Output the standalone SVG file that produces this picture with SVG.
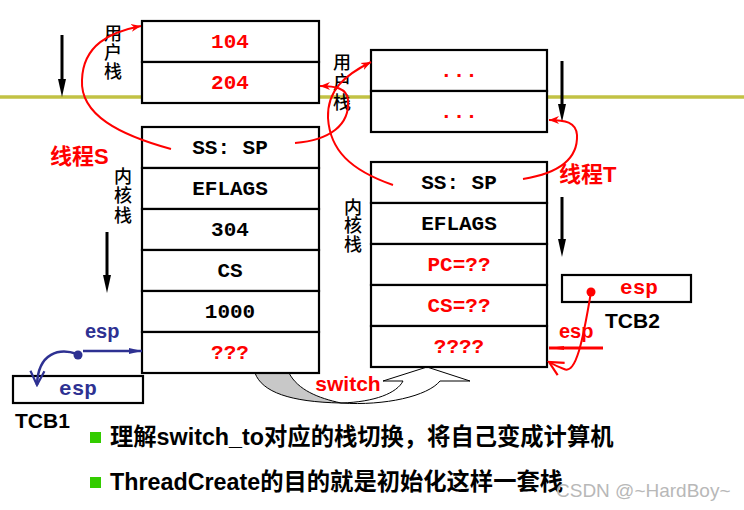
<svg xmlns="http://www.w3.org/2000/svg" width="744" height="510" viewBox="0 0 744 510">
<defs>
<style>
.cell{fill:#fff;stroke:#000;stroke-width:2.2}
.m{font-family:"Liberation Mono","Courier New",monospace;font-weight:bold;font-size:21px;text-anchor:middle;fill:#000}
.r{fill:#ff0000}
.cj{font-family:"Noto Sans CJK SC",sans-serif;font-size:18px;font-weight:500;writing-mode:vertical-rl;text-anchor:start;fill:#000}
.lb{font-family:"Liberation Sans","Noto Sans CJK SC",sans-serif;font-weight:bold}
.rc{fill:none;stroke:#ff0000;stroke-width:2}
.bc{fill:none;stroke:#2e3192;stroke-width:2.5}
.blk{stroke:#000;stroke-width:3}
</style>
<marker id="rf" markerUnits="userSpaceOnUse" markerWidth="12" markerHeight="10" refX="10" refY="5" orient="auto"><path d="M0,1 L10,5 L0,9 L3,5 Z" fill="#ff0000"/></marker>
<marker id="rv" markerUnits="userSpaceOnUse" markerWidth="18" markerHeight="18" refX="16" refY="9" orient="auto"><path d="M2,2 L16,9 L2,16" fill="none" stroke="#ff0000" stroke-width="2.2"/></marker>
<marker id="bf" markerUnits="userSpaceOnUse" markerWidth="14" markerHeight="10" refX="13" refY="5" orient="auto"><path d="M0,2 L13,5 L0,8 Z" fill="#2e3192"/></marker>
<marker id="bv" markerUnits="userSpaceOnUse" markerWidth="18" markerHeight="18" refX="16" refY="9" orient="auto"><path d="M2,2 L16,9 L2,16" fill="none" stroke="#2e3192" stroke-width="2.2"/></marker>
<marker id="rl" markerUnits="userSpaceOnUse" markerWidth="16" markerHeight="10" refX="15" refY="5" orient="auto"><path d="M0,3 L15,5 L0,7 Z" fill="#ff0000"/></marker>
</defs>
<rect width="744" height="510" fill="#fff"/>

<!-- olive boundary line -->
<line x1="0" y1="97" x2="744" y2="97" stroke="#c2c244" stroke-width="3.5"/>

<!-- growth direction arrows -->
<g id="dir-arrows">
<line class="blk" x1="62" y1="35" x2="62" y2="82"/><path d="M58,79 L66,79 L62,97 Z"/>
<line class="blk" x1="107" y1="232" x2="107" y2="278"/><path d="M103,275 L111,275 L107,293 Z"/>
<line class="blk" x1="562" y1="61" x2="562" y2="107"/><path d="M558,104 L566,104 L562,122 Z"/>
<line class="blk" x1="562" y1="197" x2="562" y2="242"/><path d="M558,239 L566,239 L562,257 Z"/>
</g>

<!-- switch curved arrow -->
<g id="switch-arrow">
<path d="M255,373 C262,392 290,402 341,403 C318,398 298,390 289,373 Z" fill="#c8c8c8" stroke="#000" stroke-width="1"/>
<path d="M341,403 C375,402 397,393 403,381 L383,381 L427,367 L470,381 L440,381 C428,396 385,406 341,403 Z" fill="#fff" stroke="#000" stroke-width="1"/>
<text class="lb r" x="348" y="391" font-size="21" text-anchor="middle">switch</text>
</g>

<!-- Thread S user stack -->
<g id="s-user-stack">
<rect class="cell" x="142" y="21" width="177" height="41"/>
<rect class="cell" x="142" y="62" width="177" height="41"/>
<text class="m r" x="230" y="48">104</text>
<text class="m r" x="230" y="89">204</text>
<text class="cj" x="113" y="24" letter-spacing="1">用户栈</text>
</g>

<!-- Thread S kernel stack -->
<g id="s-kernel-stack">
<rect class="cell" x="142" y="127" width="177" height="41"/>
<rect class="cell" x="142" y="168" width="177" height="41"/>
<rect class="cell" x="142" y="209" width="177" height="41"/>
<rect class="cell" x="142" y="250" width="177" height="41"/>
<rect class="cell" x="142" y="291" width="177" height="41"/>
<rect class="cell" x="142" y="332" width="177" height="41"/>
<text class="m" x="230" y="154">SS: SP</text>
<text class="m" x="230" y="195">EFLAGS</text>
<text class="m" x="230" y="236">304</text>
<text class="m" x="230" y="277">CS</text>
<text class="m" x="230" y="318">1000</text>
<text class="m r" x="230" y="359">???</text>
<text class="cj" x="123" y="167" letter-spacing="1.5">内核栈</text>
</g>

<!-- Thread T user stack -->
<g id="t-user-stack">
<rect class="cell" x="371" y="50" width="176" height="41"/>
<rect class="cell" x="371" y="91" width="176" height="41"/>
<text class="m r" x="459" y="77">...</text>
<text class="m r" x="459" y="118">...</text>
<text class="cj" x="342" y="53" letter-spacing="2">用户栈</text>
</g>

<!-- Thread T kernel stack -->
<g id="t-kernel-stack">
<rect class="cell" x="371" y="162" width="176" height="41"/>
<rect class="cell" x="371" y="203" width="176" height="41"/>
<rect class="cell" x="371" y="244" width="176" height="41"/>
<rect class="cell" x="371" y="285" width="176" height="41"/>
<rect class="cell" x="371" y="326" width="176" height="41"/>
<text class="m" x="459" y="189">SS: SP</text>
<text class="m" x="459" y="230">EFLAGS</text>
<text class="m r" x="459" y="271">PC=??</text>
<text class="m r" x="459" y="312">CS=??</text>
<text class="m r" x="459" y="353">????</text>
<text class="cj" x="353" y="198" letter-spacing="0.5">内核栈</text>
</g>

<!-- TCB1 -->
<g id="tcb1">
<rect x="13" y="376" width="130" height="27" fill="#fff" stroke="#000" stroke-width="2.2"/>
<text class="m" x="78" y="395" style="fill:#2e3192">esp</text>
<text class="lb" x="15" y="428" font-size="21">TCB1</text>
</g>

<!-- TCB2 -->
<g id="tcb2">
<rect x="562" y="275" width="129" height="27" fill="#fff" stroke="#000" stroke-width="2.2"/>
<text class="m r" x="639" y="294">esp</text>
<text class="lb" x="605" y="328" font-size="21">TCB2</text>
</g>

<!-- labels -->
<g id="labels">
<text class="lb r" x="50" y="164" font-size="22">线程S</text>
<text class="lb r" x="559" y="182" font-size="22">线程T</text>
<text class="lb" x="85" y="338" font-size="20" fill="#2e3192">esp</text>
<text class="lb r" x="559" y="338" font-size="20">esp</text>
</g>

<!-- connectors -->
<g id="connectors">
<path class="rc" d="M171,149 C120,135 80,115 82,80 C83,45 110,32 141,26" marker-end="url(#rf)"/>
<path class="rc" d="M295,143 C330,140 350,125 348,100 C347,88 335,86 320,86" marker-end="url(#rf)"/>
<path class="rc" d="M393,185 C350,170 330,150 328,118 C327,90 345,75 371,62" marker-end="url(#rf)"/>
<path class="rc" d="M523,179 C560,173 578,158 577,135 C576,122 565,120 549,120" marker-end="url(#rf)"/>
<path class="rc" stroke-width="2.5" d="M591,292 C583,340 576,375 564,369 Q556,366 549,362" marker-end="url(#rv)"/>
<circle cx="591" cy="292" r="4.5" fill="#ff0000"/>
<line x1="603" y1="348" x2="549" y2="348" stroke="#ff0000" stroke-width="3" marker-end="url(#rl)"/>
<line x1="83" y1="351" x2="142" y2="351" stroke="#2e3192" stroke-width="2.5" marker-end="url(#bf)"/>
<path class="bc" d="M77,354 C60,348 38,352 37,385" marker-end="url(#bv)"/>
<circle cx="78" cy="355" r="4.5" fill="#2e3192"/>
</g>

<!-- bullets -->
<g id="bullets">
<rect x="90" y="432" width="11" height="11" fill="#33cc00"/>
<text class="lb" x="110" y="445" font-size="23.3">理解switch_to对应的栈切换，将自己变成计算机</text>
<rect x="90" y="477" width="11" height="11" fill="#33cc00"/>
<text class="lb" x="110" y="490" font-size="23.3">ThreadCreate的目的就是初始化这样一套栈</text>
</g>

<text x="556" y="497" font-family="Liberation Sans, sans-serif" font-size="19" fill="#b8b8b8">CSDN @~HardBoy~</text>
</svg>
